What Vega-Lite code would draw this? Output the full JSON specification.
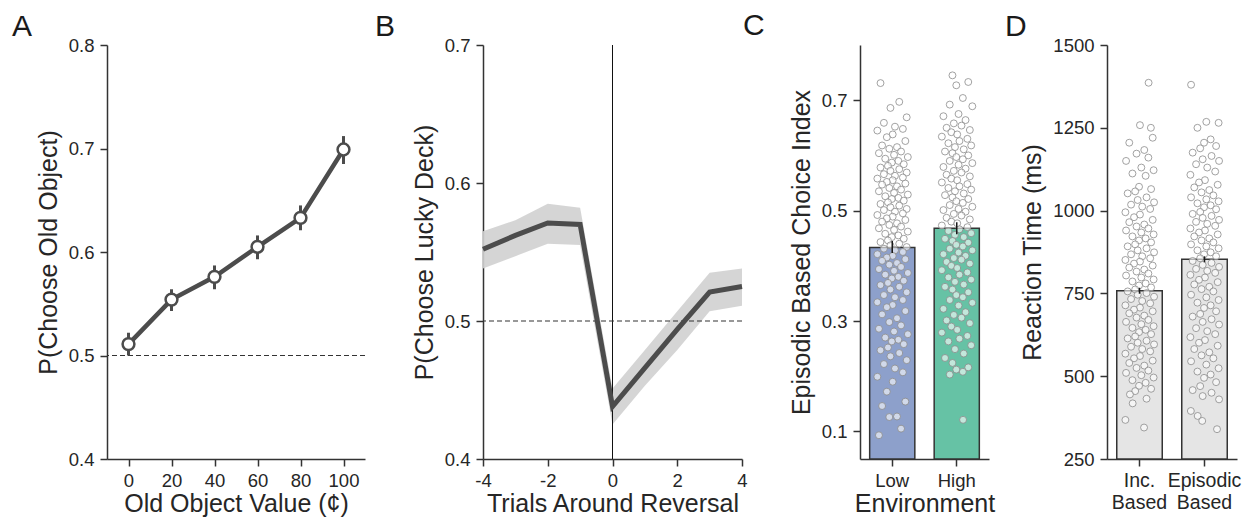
{
  "$schema": "https://vega.github.io/schema/vega-lite/v6.json",
  "padding": {"left": 12, "top": 11, "right": 5, "bottom": 5},
  "bounds": "flush",
  "spacing": 118,
  "config": {
    "font": "Liberation Sans",
    "view": {"stroke": null},
    "axis": {"domainColor": "#333333", "domainWidth": 1.5, "tickColor": "#333333", "tickWidth": 1.5, "tickSize": 7, "labelFontSize": 18.5, "labelColor": "#262626", "titleFontSize": 25, "titleFontWeight": "normal", "titleColor": "#262626", "grid": false, "labelPadding": 5, "labelFlush": false, "labelOverlap": false},
    "axisX": {"titlePadding": 2},
    "axisY": {"titlePadding": 7, "labelPadding": 6},
    "title": {"fontSize": 30, "fontWeight": "normal", "anchor": "start", "frame": "group", "color": "#1a1a1a", "baseline": "top", "offset": -6}
  },
  "datasets": {
    "a": [
      {"x": 0, "p": 0.511, "lo": 0.500, "hi": 0.522},
      {"x": 20, "p": 0.554, "lo": 0.543, "hi": 0.564},
      {"x": 40, "p": 0.576, "lo": 0.564, "hi": 0.587},
      {"x": 60, "p": 0.605, "lo": 0.593, "hi": 0.616},
      {"x": 80, "p": 0.633, "lo": 0.621, "hi": 0.645},
      {"x": 100, "p": 0.699, "lo": 0.685, "hi": 0.712}
    ],
    "b": [
      {"t": -4, "p": 0.552, "lo": 0.538, "hi": 0.565},
      {"t": -3, "p": 0.562, "lo": 0.547, "hi": 0.573},
      {"t": -2, "p": 0.571, "lo": 0.556, "hi": 0.585},
      {"t": -1, "p": 0.570, "lo": 0.555, "hi": 0.582},
      {"t": 0, "p": 0.438, "lo": 0.425, "hi": 0.451},
      {"t": 1, "p": 0.466, "lo": 0.453, "hi": 0.479},
      {"t": 2, "p": 0.494, "lo": 0.479, "hi": 0.507},
      {"t": 3, "p": 0.521, "lo": 0.507, "hi": 0.535},
      {"t": 4, "p": 0.525, "lo": 0.511, "hi": 0.538}
    ],
    "cbar": [
      {"e": "Low", "m": 0.433, "lo": 0.423, "hi": 0.445},
      {"e": "High", "m": 0.468, "lo": 0.457, "hi": 0.479}
    ],
    "dbar": [
      {"c": "Inc. Based", "m": 758, "lo": 749, "hi": 767},
      {"c": "Episodic Based", "m": 853, "lo": 844, "hi": 862}
    ],
    "cpts": [
      {"e":"Low","v":0.731,"j":-0.52},{"e":"Low","v":0.697,"j":0.31},{"e":"Low","v":0.686,"j":-0.08},{"e":"Low","v":0.669,"j":0.64},{"e":"Low","v":0.659,"j":-0.37},{"e":"Low","v":0.652,"j":0.12},{"e":"Low","v":0.648,"j":0.47},{"e":"Low","v":0.645,"j":-0.66},{"e":"Low","v":0.638,"j":0.02},{"e":"Low","v":0.633,"j":-0.24},{"e":"Low","v":0.626,"j":0.58},{"e":"Low","v":0.618,"j":-0.45},{"e":"Low","v":0.615,"j":0.21},{"e":"Low","v":0.612,"j":-0.13},{"e":"Low","v":0.607,"j":0.39},{"e":"Low","v":0.604,"j":-0.59},{"e":"Low","v":0.601,"j":0.08},{"e":"Low","v":0.597,"j":0.69},{"e":"Low","v":0.594,"j":-0.31},{"e":"Low","v":0.590,"j":0.27},{"e":"Low","v":0.587,"j":-0.02},{"e":"Low","v":0.584,"j":0.51},{"e":"Low","v":0.581,"j":-0.19},
      {"e":"Low","v":0.578,"j":-0.52},{"e":"Low","v":0.575,"j":0.31},{"e":"Low","v":0.572,"j":-0.08},{"e":"Low","v":0.569,"j":0.64},{"e":"Low","v":0.566,"j":-0.37},{"e":"Low","v":0.563,"j":0.12},{"e":"Low","v":0.560,"j":0.47},{"e":"Low","v":0.558,"j":-0.66},{"e":"Low","v":0.555,"j":0.02},{"e":"Low","v":0.552,"j":-0.24},{"e":"Low","v":0.549,"j":0.58},{"e":"Low","v":0.547,"j":-0.45},{"e":"Low","v":0.544,"j":0.21},{"e":"Low","v":0.541,"j":-0.13},{"e":"Low","v":0.538,"j":0.39},{"e":"Low","v":0.535,"j":-0.59},{"e":"Low","v":0.532,"j":0.08},{"e":"Low","v":0.529,"j":0.69},{"e":"Low","v":0.526,"j":-0.31},{"e":"Low","v":0.523,"j":0.27},{"e":"Low","v":0.521,"j":-0.02},{"e":"Low","v":0.518,"j":0.51},{"e":"Low","v":0.515,"j":-0.19},
      {"e":"Low","v":0.512,"j":-0.52},{"e":"Low","v":0.509,"j":0.31},{"e":"Low","v":0.506,"j":-0.08},{"e":"Low","v":0.503,"j":0.64},{"e":"Low","v":0.501,"j":-0.37},{"e":"Low","v":0.498,"j":0.12},{"e":"Low","v":0.495,"j":0.47},{"e":"Low","v":0.492,"j":-0.66},{"e":"Low","v":0.489,"j":0.02},{"e":"Low","v":0.486,"j":-0.24},{"e":"Low","v":0.483,"j":0.58},{"e":"Low","v":0.480,"j":-0.45},{"e":"Low","v":0.477,"j":0.21},{"e":"Low","v":0.474,"j":-0.13},{"e":"Low","v":0.471,"j":0.39},{"e":"Low","v":0.468,"j":-0.59},{"e":"Low","v":0.465,"j":0.08},{"e":"Low","v":0.462,"j":0.69},{"e":"Low","v":0.458,"j":-0.31},{"e":"Low","v":0.455,"j":0.27},{"e":"Low","v":0.452,"j":-0.02},{"e":"Low","v":0.449,"j":0.51},{"e":"Low","v":0.446,"j":-0.19},
      {"e":"Low","v":0.443,"j":-0.52},{"e":"Low","v":0.440,"j":0.31},{"e":"Low","v":0.437,"j":-0.08},{"e":"Low","v":0.434,"j":0.64},{"e":"Low","v":0.431,"j":-0.37},{"e":"Low","v":0.428,"j":0.12},{"e":"Low","v":0.425,"j":0.47},{"e":"Low","v":0.421,"j":-0.66},{"e":"Low","v":0.418,"j":0.02},{"e":"Low","v":0.415,"j":-0.24},{"e":"Low","v":0.412,"j":0.58},{"e":"Low","v":0.409,"j":-0.45},{"e":"Low","v":0.405,"j":0.21},{"e":"Low","v":0.402,"j":-0.13},{"e":"Low","v":0.398,"j":0.39},{"e":"Low","v":0.394,"j":-0.59},{"e":"Low","v":0.391,"j":0.08},{"e":"Low","v":0.387,"j":0.69},{"e":"Low","v":0.384,"j":-0.31},{"e":"Low","v":0.380,"j":0.27},{"e":"Low","v":0.377,"j":-0.02},{"e":"Low","v":0.373,"j":0.51},{"e":"Low","v":0.369,"j":-0.19},
      {"e":"Low","v":0.365,"j":-0.52},{"e":"Low","v":0.362,"j":0.31},{"e":"Low","v":0.357,"j":-0.08},{"e":"Low","v":0.352,"j":0.64},{"e":"Low","v":0.347,"j":-0.37},{"e":"Low","v":0.343,"j":0.12},{"e":"Low","v":0.338,"j":0.47},{"e":"Low","v":0.334,"j":-0.66},{"e":"Low","v":0.329,"j":0.02},{"e":"Low","v":0.325,"j":-0.24},{"e":"Low","v":0.318,"j":0.58},{"e":"Low","v":0.312,"j":-0.45},{"e":"Low","v":0.305,"j":0.21},{"e":"Low","v":0.298,"j":-0.13},{"e":"Low","v":0.292,"j":0.39},{"e":"Low","v":0.286,"j":-0.59},{"e":"Low","v":0.281,"j":0.08},{"e":"Low","v":0.276,"j":0.69},{"e":"Low","v":0.270,"j":-0.31},{"e":"Low","v":0.266,"j":0.27},{"e":"Low","v":0.263,"j":-0.02},{"e":"Low","v":0.258,"j":0.51},{"e":"Low","v":0.252,"j":-0.19},
      {"e":"Low","v":0.247,"j":-0.52},{"e":"Low","v":0.242,"j":0.31},{"e":"Low","v":0.236,"j":-0.08},{"e":"Low","v":0.229,"j":0.64},{"e":"Low","v":0.222,"j":-0.37},{"e":"Low","v":0.214,"j":0.12},{"e":"Low","v":0.207,"j":0.47},{"e":"Low","v":0.199,"j":-0.66},{"e":"Low","v":0.190,"j":0.02},{"e":"Low","v":0.172,"j":-0.24},{"e":"Low","v":0.154,"j":0.58},{"e":"Low","v":0.146,"j":-0.45},{"e":"Low","v":0.127,"j":0.21},{"e":"Low","v":0.126,"j":-0.13},{"e":"Low","v":0.105,"j":0.39},{"e":"Low","v":0.093,"j":-0.59},
      {"e":"High","v":0.745,"j":-0.19},{"e":"High","v":0.733,"j":0.51},{"e":"High","v":0.727,"j":-0.02},{"e":"High","v":0.704,"j":0.27},{"e":"High","v":0.692,"j":-0.31},{"e":"High","v":0.689,"j":0.69},{"e":"High","v":0.675,"j":0.08},{"e":"High","v":0.671,"j":-0.59},{"e":"High","v":0.664,"j":0.39},{"e":"High","v":0.658,"j":-0.13},{"e":"High","v":0.654,"j":0.21},{"e":"High","v":0.650,"j":-0.45},{"e":"High","v":0.646,"j":0.58},{"e":"High","v":0.642,"j":-0.24},{"e":"High","v":0.638,"j":0.02},{"e":"High","v":0.634,"j":-0.66},{"e":"High","v":0.630,"j":0.47},{"e":"High","v":0.626,"j":0.12},{"e":"High","v":0.622,"j":-0.37},{"e":"High","v":0.618,"j":0.64},{"e":"High","v":0.615,"j":-0.08},{"e":"High","v":0.611,"j":0.31},{"e":"High","v":0.607,"j":-0.52},
      {"e":"High","v":0.604,"j":-0.19},{"e":"High","v":0.600,"j":0.51},{"e":"High","v":0.597,"j":-0.02},{"e":"High","v":0.593,"j":0.27},{"e":"High","v":0.590,"j":-0.31},{"e":"High","v":0.586,"j":0.69},{"e":"High","v":0.583,"j":0.08},{"e":"High","v":0.579,"j":-0.59},{"e":"High","v":0.576,"j":0.39},{"e":"High","v":0.572,"j":-0.13},{"e":"High","v":0.569,"j":0.21},{"e":"High","v":0.565,"j":-0.45},{"e":"High","v":0.562,"j":0.58},{"e":"High","v":0.558,"j":-0.24},{"e":"High","v":0.555,"j":0.02},{"e":"High","v":0.551,"j":-0.66},{"e":"High","v":0.548,"j":0.47},{"e":"High","v":0.544,"j":0.12},{"e":"High","v":0.541,"j":-0.37},{"e":"High","v":0.538,"j":0.64},{"e":"High","v":0.535,"j":-0.08},{"e":"High","v":0.531,"j":0.31},{"e":"High","v":0.528,"j":-0.52},
      {"e":"High","v":0.524,"j":-0.19},{"e":"High","v":0.521,"j":0.51},{"e":"High","v":0.517,"j":-0.02},{"e":"High","v":0.514,"j":0.27},{"e":"High","v":0.510,"j":-0.31},{"e":"High","v":0.507,"j":0.69},{"e":"High","v":0.503,"j":0.08},{"e":"High","v":0.501,"j":-0.59},{"e":"High","v":0.498,"j":0.39},{"e":"High","v":0.494,"j":-0.13},{"e":"High","v":0.491,"j":0.21},{"e":"High","v":0.487,"j":-0.45},{"e":"High","v":0.484,"j":0.58},{"e":"High","v":0.480,"j":-0.24},{"e":"High","v":0.477,"j":0.02},{"e":"High","v":0.473,"j":-0.66},{"e":"High","v":0.470,"j":0.47},{"e":"High","v":0.466,"j":0.12},{"e":"High","v":0.463,"j":-0.37},{"e":"High","v":0.459,"j":0.64},{"e":"High","v":0.456,"j":-0.08},{"e":"High","v":0.452,"j":0.31},{"e":"High","v":0.449,"j":-0.52},
      {"e":"High","v":0.445,"j":-0.19},{"e":"High","v":0.442,"j":0.51},{"e":"High","v":0.438,"j":-0.02},{"e":"High","v":0.435,"j":0.27},{"e":"High","v":0.431,"j":-0.31},{"e":"High","v":0.428,"j":0.69},{"e":"High","v":0.424,"j":0.08},{"e":"High","v":0.421,"j":-0.59},{"e":"High","v":0.418,"j":0.39},{"e":"High","v":0.414,"j":-0.13},{"e":"High","v":0.411,"j":0.21},{"e":"High","v":0.407,"j":-0.45},{"e":"High","v":0.404,"j":0.58},{"e":"High","v":0.400,"j":-0.24},{"e":"High","v":0.396,"j":0.02},{"e":"High","v":0.392,"j":-0.66},{"e":"High","v":0.388,"j":0.47},{"e":"High","v":0.384,"j":0.12},{"e":"High","v":0.379,"j":-0.37},{"e":"High","v":0.375,"j":0.64},{"e":"High","v":0.371,"j":-0.08},{"e":"High","v":0.366,"j":0.31},{"e":"High","v":0.362,"j":-0.52},
      {"e":"High","v":0.357,"j":-0.19},{"e":"High","v":0.352,"j":0.51},{"e":"High","v":0.347,"j":-0.02},{"e":"High","v":0.343,"j":0.27},{"e":"High","v":0.338,"j":-0.31},{"e":"High","v":0.333,"j":0.69},{"e":"High","v":0.328,"j":0.08},{"e":"High","v":0.322,"j":-0.59},{"e":"High","v":0.316,"j":0.39},{"e":"High","v":0.311,"j":-0.13},{"e":"High","v":0.306,"j":0.21},{"e":"High","v":0.301,"j":-0.45},{"e":"High","v":0.296,"j":0.58},{"e":"High","v":0.290,"j":-0.24},{"e":"High","v":0.284,"j":0.02},{"e":"High","v":0.279,"j":-0.66},{"e":"High","v":0.273,"j":0.47},{"e":"High","v":0.268,"j":0.12},{"e":"High","v":0.263,"j":-0.37},{"e":"High","v":0.256,"j":0.64},{"e":"High","v":0.249,"j":-0.08},{"e":"High","v":0.241,"j":0.31},{"e":"High","v":0.233,"j":-0.52},
      {"e":"High","v":0.224,"j":-0.19},{"e":"High","v":0.216,"j":0.51},{"e":"High","v":0.212,"j":-0.02},{"e":"High","v":0.208,"j":0.27},{"e":"High","v":0.203,"j":-0.31},{"e":"High","v":0.121,"j":0.28}
    ],
    "dpts": [
      {"c":"Inc. Based","v":1386,"j":0.4},{"c":"Inc. Based","v":1258,"j":0.02},{"c":"Inc. Based","v":1250,"j":0.5},{"c":"Inc. Based","v":1220,"j":0.58},{"c":"Inc. Based","v":1205,"j":-0.45},{"c":"Inc. Based","v":1183,"j":0.21},{"c":"Inc. Based","v":1172,"j":-0.13},{"c":"Inc. Based","v":1160,"j":0.39},{"c":"Inc. Based","v":1150,"j":-0.59},{"c":"Inc. Based","v":1130,"j":0.08},{"c":"Inc. Based","v":1122,"j":0.62},{"c":"Inc. Based","v":1112,"j":-0.31},{"c":"Inc. Based","v":1105,"j":0.27},{"c":"Inc. Based","v":1072,"j":-0.02},{"c":"Inc. Based","v":1065,"j":0.51},{"c":"Inc. Based","v":1058,"j":-0.19},{"c":"Inc. Based","v":1052,"j":-0.52},{"c":"Inc. Based","v":1040,"j":0.31},{"c":"Inc. Based","v":1032,"j":-0.08},{"c":"Inc. Based","v":1025,"j":0.64},{"c":"Inc. Based","v":1018,"j":-0.37},{"c":"Inc. Based","v":1012,"j":0.12},{"c":"Inc. Based","v":1005,"j":0.47},
      {"c":"Inc. Based","v":995,"j":-0.62},{"c":"Inc. Based","v":988,"j":0.02},{"c":"Inc. Based","v":980,"j":-0.24},{"c":"Inc. Based","v":972,"j":0.58},{"c":"Inc. Based","v":965,"j":-0.45},{"c":"Inc. Based","v":958,"j":0.21},{"c":"Inc. Based","v":952,"j":-0.13},{"c":"Inc. Based","v":946,"j":0.39},{"c":"Inc. Based","v":940,"j":-0.59},{"c":"Inc. Based","v":934,"j":0.08},{"c":"Inc. Based","v":928,"j":0.62},{"c":"Inc. Based","v":922,"j":-0.31},{"c":"Inc. Based","v":916,"j":0.27},{"c":"Inc. Based","v":910,"j":-0.02},{"c":"Inc. Based","v":904,"j":0.51},{"c":"Inc. Based","v":898,"j":-0.19},{"c":"Inc. Based","v":892,"j":-0.52},{"c":"Inc. Based","v":886,"j":0.31},{"c":"Inc. Based","v":880,"j":-0.08},{"c":"Inc. Based","v":874,"j":0.64},{"c":"Inc. Based","v":868,"j":-0.37},{"c":"Inc. Based","v":862,"j":0.12},{"c":"Inc. Based","v":856,"j":0.47},
      {"c":"Inc. Based","v":851,"j":-0.62},{"c":"Inc. Based","v":846,"j":0.02},{"c":"Inc. Based","v":840,"j":-0.24},{"c":"Inc. Based","v":834,"j":0.58},{"c":"Inc. Based","v":828,"j":-0.45},{"c":"Inc. Based","v":822,"j":0.21},{"c":"Inc. Based","v":816,"j":-0.13},{"c":"Inc. Based","v":810,"j":0.39},{"c":"Inc. Based","v":804,"j":-0.59},{"c":"Inc. Based","v":798,"j":0.08},{"c":"Inc. Based","v":792,"j":0.62},{"c":"Inc. Based","v":786,"j":-0.31},{"c":"Inc. Based","v":780,"j":0.27},{"c":"Inc. Based","v":774,"j":-0.02},{"c":"Inc. Based","v":768,"j":0.51},{"c":"Inc. Based","v":762,"j":-0.19},{"c":"Inc. Based","v":756,"j":-0.52},{"c":"Inc. Based","v":751,"j":0.31},{"c":"Inc. Based","v":746,"j":-0.08},{"c":"Inc. Based","v":740,"j":0.64},{"c":"Inc. Based","v":733,"j":-0.37},{"c":"Inc. Based","v":727,"j":0.12},{"c":"Inc. Based","v":720,"j":0.47},
      {"c":"Inc. Based","v":714,"j":-0.62},{"c":"Inc. Based","v":707,"j":0.02},{"c":"Inc. Based","v":701,"j":-0.24},{"c":"Inc. Based","v":696,"j":0.58},{"c":"Inc. Based","v":690,"j":-0.45},{"c":"Inc. Based","v":683,"j":0.21},{"c":"Inc. Based","v":677,"j":-0.13},{"c":"Inc. Based","v":670,"j":0.39},{"c":"Inc. Based","v":664,"j":-0.59},{"c":"Inc. Based","v":657,"j":0.08},{"c":"Inc. Based","v":651,"j":0.62},{"c":"Inc. Based","v":646,"j":-0.31},{"c":"Inc. Based","v":640,"j":0.27},{"c":"Inc. Based","v":633,"j":-0.02},{"c":"Inc. Based","v":627,"j":0.51},{"c":"Inc. Based","v":620,"j":-0.19},{"c":"Inc. Based","v":614,"j":-0.52},{"c":"Inc. Based","v":607,"j":0.31},{"c":"Inc. Based","v":601,"j":-0.08},{"c":"Inc. Based","v":596,"j":0.64},{"c":"Inc. Based","v":589,"j":-0.37},{"c":"Inc. Based","v":582,"j":0.12},{"c":"Inc. Based","v":575,"j":0.47},
      {"c":"Inc. Based","v":568,"j":-0.62},{"c":"Inc. Based","v":561,"j":0.02},{"c":"Inc. Based","v":554,"j":-0.24},{"c":"Inc. Based","v":547,"j":0.58},{"c":"Inc. Based","v":540,"j":-0.45},{"c":"Inc. Based","v":532,"j":0.21},{"c":"Inc. Based","v":525,"j":-0.13},{"c":"Inc. Based","v":517,"j":0.39},{"c":"Inc. Based","v":510,"j":-0.59},{"c":"Inc. Based","v":503,"j":0.08},{"c":"Inc. Based","v":496,"j":0.62},{"c":"Inc. Based","v":488,"j":-0.31},{"c":"Inc. Based","v":480,"j":0.27},{"c":"Inc. Based","v":471,"j":-0.02},{"c":"Inc. Based","v":462,"j":0.51},{"c":"Inc. Based","v":455,"j":-0.19},{"c":"Inc. Based","v":445,"j":-0.42},{"c":"Inc. Based","v":432,"j":0.31},{"c":"Inc. Based","v":418,"j":-0.3},{"c":"Inc. Based","v":368,"j":-0.62},{"c":"Inc. Based","v":345,"j":0.2},
      {"c":"Episodic Based","v":1380,"j":-0.59},{"c":"Episodic Based","v":1268,"j":0.08},{"c":"Episodic Based","v":1265,"j":0.62},{"c":"Episodic Based","v":1250,"j":-0.31},{"c":"Episodic Based","v":1215,"j":0.27},{"c":"Episodic Based","v":1205,"j":-0.02},{"c":"Episodic Based","v":1195,"j":0.51},{"c":"Episodic Based","v":1188,"j":-0.19},{"c":"Episodic Based","v":1175,"j":-0.52},{"c":"Episodic Based","v":1165,"j":0.31},{"c":"Episodic Based","v":1155,"j":-0.08},{"c":"Episodic Based","v":1150,"j":0.64},{"c":"Episodic Based","v":1140,"j":-0.37},{"c":"Episodic Based","v":1130,"j":0.12},{"c":"Episodic Based","v":1118,"j":0.47},{"c":"Episodic Based","v":1108,"j":-0.62},{"c":"Episodic Based","v":1092,"j":0.02},{"c":"Episodic Based","v":1085,"j":-0.24},{"c":"Episodic Based","v":1078,"j":0.58},{"c":"Episodic Based","v":1070,"j":-0.45},{"c":"Episodic Based","v":1062,"j":0.21},{"c":"Episodic Based","v":1055,"j":-0.13},{"c":"Episodic Based","v":1046,"j":0.39},
      {"c":"Episodic Based","v":1040,"j":-0.59},{"c":"Episodic Based","v":1034,"j":0.08},{"c":"Episodic Based","v":1028,"j":0.62},{"c":"Episodic Based","v":1022,"j":-0.31},{"c":"Episodic Based","v":1016,"j":0.27},{"c":"Episodic Based","v":1010,"j":-0.02},{"c":"Episodic Based","v":1004,"j":0.51},{"c":"Episodic Based","v":996,"j":-0.19},{"c":"Episodic Based","v":990,"j":-0.52},{"c":"Episodic Based","v":984,"j":0.31},{"c":"Episodic Based","v":978,"j":-0.08},{"c":"Episodic Based","v":972,"j":0.64},{"c":"Episodic Based","v":966,"j":-0.37},{"c":"Episodic Based","v":960,"j":0.12},{"c":"Episodic Based","v":954,"j":0.47},{"c":"Episodic Based","v":946,"j":-0.62},{"c":"Episodic Based","v":940,"j":0.02},{"c":"Episodic Based","v":934,"j":-0.24},{"c":"Episodic Based","v":928,"j":0.58},{"c":"Episodic Based","v":922,"j":-0.45},{"c":"Episodic Based","v":916,"j":0.21},{"c":"Episodic Based","v":910,"j":-0.13},{"c":"Episodic Based","v":904,"j":0.39},
      {"c":"Episodic Based","v":898,"j":-0.59},{"c":"Episodic Based","v":892,"j":0.08},{"c":"Episodic Based","v":886,"j":0.62},{"c":"Episodic Based","v":880,"j":-0.31},{"c":"Episodic Based","v":874,"j":0.27},{"c":"Episodic Based","v":868,"j":-0.02},{"c":"Episodic Based","v":862,"j":0.51},{"c":"Episodic Based","v":856,"j":-0.19},{"c":"Episodic Based","v":848,"j":-0.52},{"c":"Episodic Based","v":842,"j":0.31},{"c":"Episodic Based","v":836,"j":-0.08},{"c":"Episodic Based","v":830,"j":0.64},{"c":"Episodic Based","v":824,"j":-0.37},{"c":"Episodic Based","v":818,"j":0.12},{"c":"Episodic Based","v":812,"j":0.47},{"c":"Episodic Based","v":806,"j":-0.62},{"c":"Episodic Based","v":798,"j":0.02},{"c":"Episodic Based","v":791,"j":-0.24},{"c":"Episodic Based","v":784,"j":0.58},{"c":"Episodic Based","v":777,"j":-0.45},{"c":"Episodic Based","v":770,"j":0.21},{"c":"Episodic Based","v":763,"j":-0.13},{"c":"Episodic Based","v":756,"j":0.39},
      {"c":"Episodic Based","v":746,"j":-0.59},{"c":"Episodic Based","v":738,"j":0.08},{"c":"Episodic Based","v":730,"j":0.62},{"c":"Episodic Based","v":722,"j":-0.31},{"c":"Episodic Based","v":714,"j":0.27},{"c":"Episodic Based","v":706,"j":-0.02},{"c":"Episodic Based","v":696,"j":0.51},{"c":"Episodic Based","v":688,"j":-0.19},{"c":"Episodic Based","v":680,"j":-0.52},{"c":"Episodic Based","v":672,"j":0.31},{"c":"Episodic Based","v":664,"j":-0.08},{"c":"Episodic Based","v":656,"j":0.64},{"c":"Episodic Based","v":645,"j":-0.37},{"c":"Episodic Based","v":636,"j":0.12},{"c":"Episodic Based","v":627,"j":0.47},{"c":"Episodic Based","v":618,"j":-0.62},{"c":"Episodic Based","v":609,"j":0.02},{"c":"Episodic Based","v":601,"j":-0.24},{"c":"Episodic Based","v":592,"j":0.58},{"c":"Episodic Based","v":582,"j":-0.45},{"c":"Episodic Based","v":572,"j":0.21},{"c":"Episodic Based","v":563,"j":-0.13},{"c":"Episodic Based","v":554,"j":0.39},
      {"c":"Episodic Based","v":545,"j":-0.59},{"c":"Episodic Based","v":535,"j":0.08},{"c":"Episodic Based","v":524,"j":0.62},{"c":"Episodic Based","v":514,"j":-0.31},{"c":"Episodic Based","v":505,"j":0.27},{"c":"Episodic Based","v":495,"j":-0.02},{"c":"Episodic Based","v":482,"j":0.51},{"c":"Episodic Based","v":470,"j":-0.19},{"c":"Episodic Based","v":458,"j":-0.52},{"c":"Episodic Based","v":450,"j":0.31},{"c":"Episodic Based","v":440,"j":-0.08},{"c":"Episodic Based","v":430,"j":0.64},{"c":"Episodic Based","v":395,"j":-0.6},{"c":"Episodic Based","v":380,"j":-0.3},{"c":"Episodic Based","v":365,"j":-0.1},{"c":"Episodic Based","v":340,"j":0.55}
    ]
  },
  "hconcat": [
    {
      "title": {"text": "A", "dx": -95},
      "width": 258,
      "height": 414,
      "data": {"name": "a"},
      "layer": [
        {
          "data": {"values": [{}]},
          "mark": {"type": "rule", "strokeDash": [5, 3], "color": "#333333", "strokeWidth": 1.2},
          "encoding": {"y": {"datum": 0.5, "type": "quantitative"}}
        },
        {
          "mark": {"type": "rule", "color": "#4c4c4c", "strokeWidth": 3},
          "encoding": {
            "x": {"field": "x", "type": "quantitative", "scale": {"domain": [-10, 110], "nice": false, "zero": false}, "axis": {"values": [0, 20, 40, 60, 80, 100]}, "title": "Old Object Value (¢)"},
            "y": {"field": "lo", "type": "quantitative", "scale": {"domain": [0.4, 0.8], "nice": false, "zero": false}, "axis": {"values": [0.4, 0.5, 0.6, 0.7, 0.8], "format": ".1f"}, "title": "P(Choose Old Object)"},
            "y2": {"field": "hi"}
          }
        },
        {
          "mark": {"type": "line", "color": "#4c4c4c", "strokeWidth": 4.5},
          "encoding": {
            "x": {"field": "x", "type": "quantitative", "title": "Old Object Value (¢)"},
            "y": {"field": "p", "type": "quantitative", "title": "P(Choose Old Object)"}
          }
        },
        {
          "mark": {"type": "point", "shape": "circle", "filled": true, "fill": "white", "stroke": "#4c4c4c", "strokeWidth": 2.5, "size": 140, "opacity": 1},
          "encoding": {
            "x": {"field": "x", "type": "quantitative", "title": "Old Object Value (¢)"},
            "y": {"field": "p", "type": "quantitative", "title": "P(Choose Old Object)"}
          }
        }
      ]
    },
    {
      "title": {"text": "B", "dx": -108},
      "width": 259,
      "height": 414,
      "data": {"name": "b"},
      "layer": [
        {
          "mark": {"type": "area", "color": "#d0d0d0", "opacity": 0.9},
          "encoding": {
            "x": {"field": "t", "type": "quantitative", "scale": {"domain": [-4, 4], "nice": false, "zero": false}, "axis": {"values": [-4, -2, 0, 2, 4], "labelExpr": "'' + datum.value"}, "title": "Trials Around Reversal"},
            "y": {"field": "lo", "type": "quantitative", "scale": {"domain": [0.4, 0.7], "nice": false, "zero": false}, "axis": {"values": [0.4, 0.5, 0.6, 0.7], "format": ".1f"}, "title": "P(Choose Lucky Deck)"},
            "y2": {"field": "hi"}
          }
        },
        {
          "data": {"values": [{}]},
          "mark": {"type": "rule", "color": "#111111", "strokeWidth": 1},
          "encoding": {"x": {"datum": 0, "type": "quantitative"}}
        },
        {
          "data": {"values": [{}]},
          "mark": {"type": "rule", "strokeDash": [5, 3], "color": "#333333", "strokeWidth": 1.2},
          "encoding": {"y": {"datum": 0.5, "type": "quantitative"}}
        },
        {
          "mark": {"type": "line", "color": "#4c4c4c", "strokeWidth": 5},
          "encoding": {
            "x": {"field": "t", "type": "quantitative", "title": "Trials Around Reversal"},
            "y": {"field": "p", "type": "quantitative", "title": "P(Choose Lucky Deck)"}
          }
        }
      ]
    },
    {
      "title": {"text": "C", "dx": -117, "dy": -10},
      "width": 129,
      "height": 414,
      "resolve": {"scale": {"xOffset": "independent"}},
      "layer": [
        {
          "data": {"name": "cbar"},
          "mark": {"type": "bar", "stroke": "#333333", "strokeWidth": 1.5},
          "encoding": {
            "x": {"field": "e", "type": "nominal", "sort": ["Low", "High"], "scale": {"paddingInner": 0.3, "paddingOuter": 0.15}, "axis": {"labelAngle": 0}, "title": "Environment"},
            "y": {"field": "m", "type": "quantitative", "scale": {"domain": [0.05, 0.8], "nice": false, "zero": false}, "axis": {"values": [0.1, 0.3, 0.5, 0.7], "format": ".1f"}, "title": "Episodic Based Choice Index"},
            "y2": {"datum": 0.05},
            "fill": {"field": "e", "type": "nominal", "scale": {"domain": ["Low", "High"], "range": ["#8da0cb", "#66c2a5"]}, "legend": null}
          }
        },
        {
          "data": {"name": "cpts"},
          "mark": {"type": "circle", "fill": "white", "fillOpacity": 0.6, "stroke": "#8a8a8a", "strokeWidth": 0.8, "size": 48, "opacity": 1},
          "encoding": {
            "x": {"field": "e", "type": "nominal", "sort": ["Low", "High"], "title": "Environment"},
            "xOffset": {"field": "j", "type": "quantitative", "scale": {"domain": [-1, 1]}},
            "y": {"field": "v", "type": "quantitative", "title": "Episodic Based Choice Index"}
          }
        },
        {
          "data": {"name": "cbar"},
          "mark": {"type": "rule", "color": "#1a1a1a", "strokeWidth": 1.5},
          "encoding": {
            "x": {"field": "e", "type": "nominal", "sort": ["Low", "High"], "title": "Environment"},
            "y": {"field": "lo", "type": "quantitative", "title": "Episodic Based Choice Index"},
            "y2": {"field": "hi"}
          }
        }
      ]
    },
    {
      "title": {"text": "D", "dx": -102},
      "width": 130,
      "height": 414,
      "resolve": {"scale": {"xOffset": "independent"}},
      "layer": [
        {
          "data": {"name": "dbar"},
          "mark": {"type": "bar", "fill": "#e5e5e5", "stroke": "#333333", "strokeWidth": 1.5},
          "encoding": {
            "x": {"field": "c", "type": "nominal", "sort": ["Inc. Based", "Episodic Based"], "scale": {"paddingInner": 0.3, "paddingOuter": 0.15}, "axis": {"labelAngle": 0, "labelExpr": "split(datum.label, ' ')", "labelFontSize": 19.5, "labelLineHeight": 22}, "title": null},
            "y": {"field": "m", "type": "quantitative", "scale": {"domain": [250, 1500], "nice": false, "zero": false}, "axis": {"values": [250, 500, 750, 1000, 1250, 1500], "format": "d"}, "title": "Reaction Time (ms)"},
            "y2": {"datum": 250}
          }
        },
        {
          "data": {"name": "dpts"},
          "mark": {"type": "circle", "fill": "white", "fillOpacity": 0.6, "stroke": "#8a8a8a", "strokeWidth": 0.8, "size": 48, "opacity": 1},
          "encoding": {
            "x": {"field": "c", "type": "nominal", "sort": ["Inc. Based", "Episodic Based"], "title": null},
            "xOffset": {"field": "j", "type": "quantitative", "scale": {"domain": [-1, 1]}},
            "y": {"field": "v", "type": "quantitative", "title": "Reaction Time (ms)"}
          }
        },
        {
          "data": {"name": "dbar"},
          "mark": {"type": "rule", "color": "#1a1a1a", "strokeWidth": 1.5},
          "encoding": {
            "x": {"field": "c", "type": "nominal", "sort": ["Inc. Based", "Episodic Based"], "title": null},
            "y": {"field": "lo", "type": "quantitative", "title": "Reaction Time (ms)"},
            "y2": {"field": "hi"}
          }
        }
      ]
    }
  ]
}
